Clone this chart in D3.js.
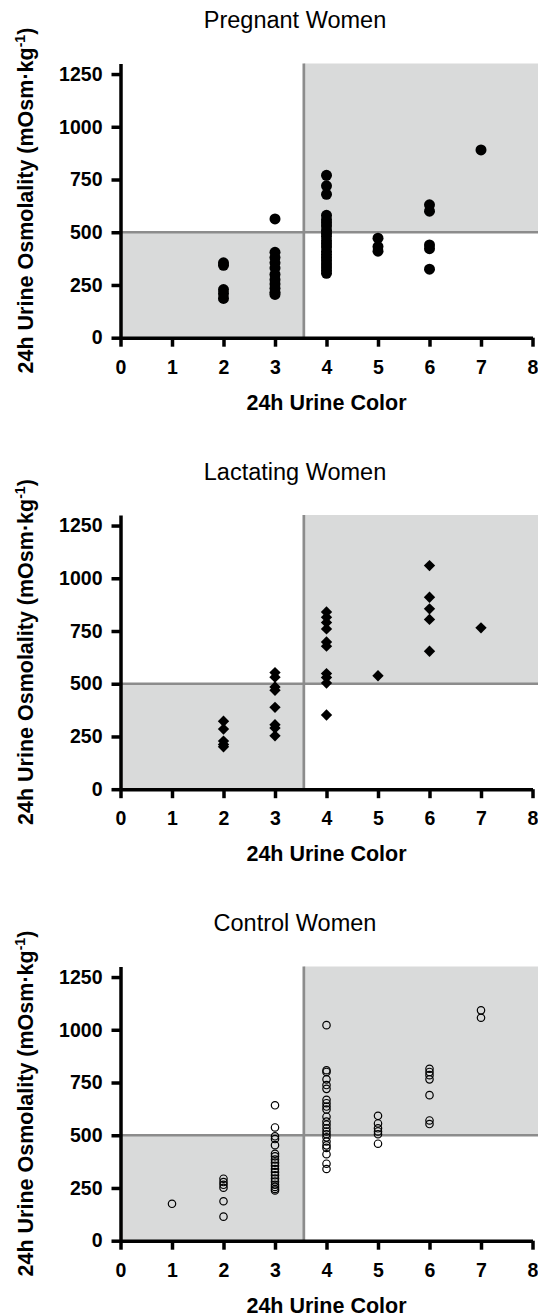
<!DOCTYPE html>
<html>
<head>
<meta charset="utf-8">
<script src="https://cdn.jsdelivr.net/npm/d3@7"></script>
<style>
  body { margin: 0; background: #fff; }
  text { font-family: "Liberation Sans", Arial, sans-serif; }
  .axis .domain, .axis line { stroke: #000; stroke-width: 3.5px; }
  .axis text { font-size: 19.5px; font-weight: bold; fill: #000; }
</style>
</head>
<body>
<div class="graph"></div>
<script>
const colorTicks = [0, 1, 2, 3, 4, 5, 6, 7, 8];
const osmoTicks = [0, 250, 500, 750, 1000, 1250];
const groupNames = ['Pregnant Women', 'Lactating Women', 'Control Women'];

// cut-offs for the shaded quadrants
const colorCut = 3.56;
const osmoCut = 500;

// [urine color, osmolality]
const pregnant = [
  [2, 355], [2, 343], [2, 228], [2, 209], [2, 186],
  [3, 563], [3, 405], [3, 380], [3, 355], [3, 330], [3, 300], [3, 275], [3, 255], [3, 235], [3, 215], [3, 205],
  [4, 770], [4, 720], [4, 680], [4, 580], [4, 560], [4, 545], [4, 530], [4, 510], [4, 495], [4, 480],
  [4, 460], [4, 445], [4, 430], [4, 410], [4, 395], [4, 380], [4, 365], [4, 350], [4, 335], [4, 320], [4, 305],
  [5, 472], [5, 432], [5, 410],
  [6, 630], [6, 600], [6, 440], [6, 422], [6, 325],
  [7, 890]
];

const lactating = [
  [2, 322], [2, 285], [2, 228], [2, 212], [2, 201],
  [3, 553], [3, 531], [3, 485], [3, 469], [3, 388], [3, 306], [3, 290], [3, 253],
  [4, 840], [4, 815], [4, 790], [4, 760], [4, 698], [4, 678], [4, 548], [4, 530], [4, 503], [4, 352],
  [5, 538],
  [6, 1060], [6, 910], [6, 855], [6, 805], [6, 654],
  [7, 765]
];

const control = [
  [1, 175],
  [2, 294], [2, 278], [2, 265], [2, 251], [2, 187], [2, 114],
  [3, 642], [3, 537], [3, 495], [3, 482], [3, 453], [3, 412], [3, 400], [3, 385], [3, 370], [3, 355],
  [3, 340], [3, 325], [3, 310], [3, 295], [3, 280], [3, 265], [3, 255], [3, 245], [3, 238],
  [4, 1022], [4, 808], [4, 800], [4, 765], [4, 738], [4, 720], [4, 668], [4, 652], [4, 636], [4, 622],
  [4, 588], [4, 565], [4, 550], [4, 533], [4, 518], [4, 505], [4, 490], [4, 470], [4, 452], [4, 440],
  [4, 410], [4, 365], [4, 340],
  [5, 592], [5, 556], [5, 533], [5, 518], [5, 505], [5, 460],
  [6, 815], [6, 800], [6, 785], [6, 765], [6, 690], [6, 570], [6, 553],
  [7, 1092], [7, 1057]
];

const groups = [pregnant, lactating, control];

const W = 538, H = 1315;
const panelStep = 451.5;

const svg = d3.select('.graph').append('svg')
  .attr('width', W)
  .attr('height', H);

const x = d3.scaleLinear().domain([0, 8]).range([120.5, 532.5]);
const y = d3.scaleLinear().domain([0, 1300]).range([337.7, 63.5]);

groups.forEach((pts, i) => {
  const g = svg.append('g').attr('transform', `translate(0,${i * panelStep})`);

  // shaded quadrants
  g.append('rect')
    .attr('x', x(0)).attr('y', y(osmoCut))
    .attr('width', x(colorCut) - x(0)).attr('height', y(0) - y(osmoCut))
    .attr('fill', '#d9dada');
  g.append('rect')
    .attr('x', x(colorCut)).attr('y', y(1300))
    .attr('width', x(8.12) - x(colorCut)).attr('height', y(osmoCut) - y(1300))
    .attr('fill', '#d9dada');

  g.append('line')
    .attr('x1', x(colorCut)).attr('x2', x(colorCut))
    .attr('y1', y(0)).attr('y2', y(1300))
    .attr('stroke', '#8c8c8c').attr('stroke-width', 2.7);
  g.append('line')
    .attr('x1', x(0)).attr('x2', x(8.12))
    .attr('y1', y(osmoCut)).attr('y2', y(osmoCut))
    .attr('stroke', '#8c8c8c').attr('stroke-width', 2.7);

  // axes
  g.append('g')
    .attr('class', 'axis')
    .attr('transform', `translate(0,${y(0)})`)
    .call(d3.axisBottom(x).tickValues(colorTicks).tickSize(9).tickSizeOuter(0).tickPadding(13).tickFormat(d3.format('d')));

  g.append('g')
    .attr('class', 'axis')
    .attr('transform', `translate(${x(0)},0)`)
    .call(d3.axisLeft(y).tickValues(osmoTicks).tickSize(9).tickSizeOuter(0).tickPadding(9).tickFormat(d3.format('d')));

  // markers
  if (i === 0) {
    g.selectAll('circle.pt').data(pts).join('circle')
      .attr('class', 'pt')
      .attr('cx', d => x(d[0])).attr('cy', d => y(d[1]))
      .attr('r', 5.5)
      .attr('fill', '#000');
  } else if (i === 1) {
    g.selectAll('path.pt').data(pts).join('path')
      .attr('class', 'pt')
      .attr('transform', d => `translate(${x(d[0])},${y(d[1])})`)
      .attr('d', d3.symbol(d3.symbolDiamond2, 82))
      .attr('fill', '#000');
  } else {
    g.selectAll('circle.pt').data(pts).join('circle')
      .attr('class', 'pt')
      .attr('cx', d => x(d[0])).attr('cy', d => y(d[1]))
      .attr('r', 3.7)
      .attr('fill', 'none')
      .attr('stroke', '#000')
      .attr('stroke-width', 1.2);
  }

  // titles and labels
  g.append('text')
    .attr('x', 295).attr('y', 28)
    .attr('text-anchor', 'middle')
    .style('font-size', '23.5px')
    .text(groupNames[i]);

  g.append('text')
    .attr('x', (x(0) + x(8)) / 2).attr('y', y(0) + 72)
    .attr('text-anchor', 'middle')
    .style('font-size', '21.5px').style('font-weight', 'bold')
    .text('24h Urine Color');

  const yl = g.append('text')
    .attr('transform', `translate(33,${(y(0) + y(1300)) / 2}) rotate(-90)`)
    .attr('text-anchor', 'middle')
    .style('font-size', '21.5px').style('font-weight', 'bold');
  yl.append('tspan').text('24h Urine Osmolality (mOsm·kg');
  yl.append('tspan').attr('dy', -8).style('font-size', '14px').text('-1');
  yl.append('tspan').attr('dy', 8).text(')');
});
</script>
</body>
</html>
